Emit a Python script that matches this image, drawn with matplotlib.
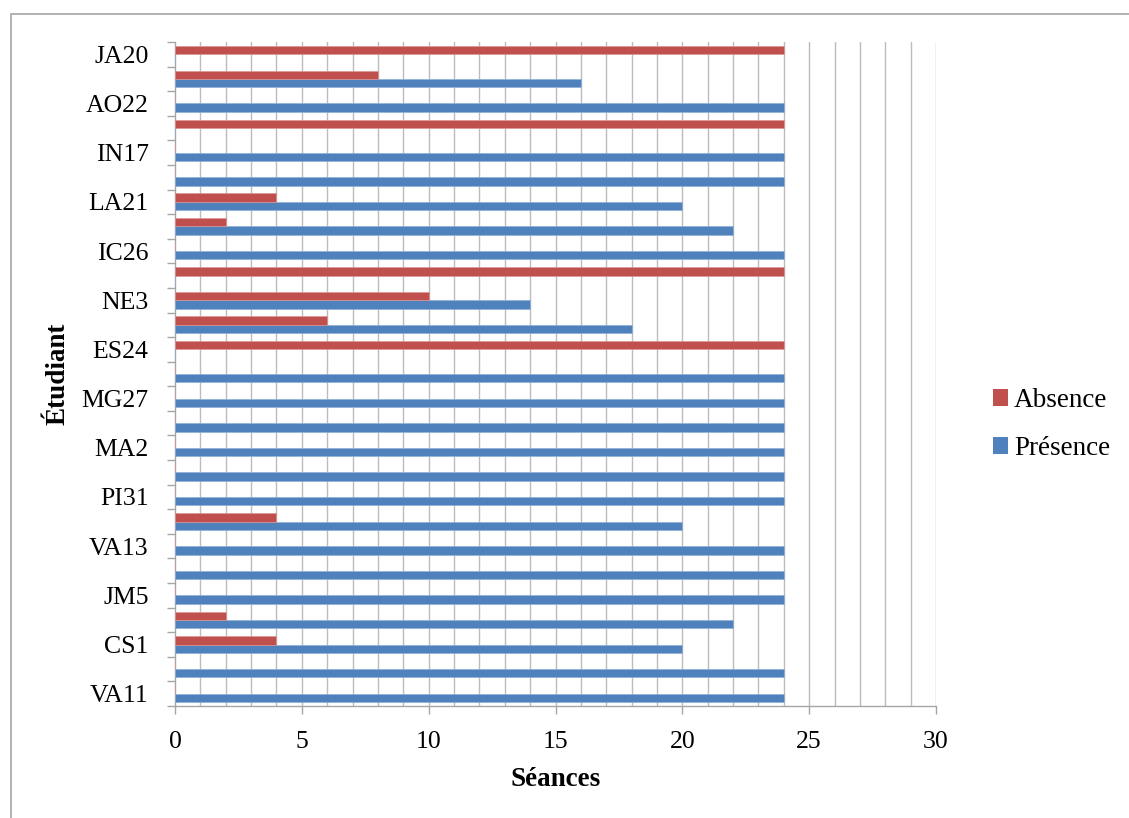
import numpy as np
import matplotlib
matplotlib.use('Agg')
from matplotlib import pyplot as plt
from matplotlib.patches import Patch, Rectangle

# students from bottom to top (only every other name is printed on the axis)
etudiants = ['VA11', '', 'CS1', '', 'JM5', '', 'VA13', '', 'PI31', '', 'MA2', '', 'MG27', '',
             'ES24', '', 'NE3', '', 'IC26', '', 'LA21', '', 'IN17', '', 'AO22', '', 'JA20']
presence = [24, 24, 20, 22, 24, 24, 24, 20, 24, 24, 24, 24, 24, 24,
            0, 18, 14, 0, 24, 22, 20, 24, 24, 0, 24, 16, 0]
absence = [0, 0, 4, 2, 0, 0, 0, 4, 0, 0, 0, 0, 0, 0,
           24, 6, 10, 24, 0, 2, 4, 0, 0, 24, 0, 8, 24]

plt.rcParams['font.family'] = ['Liberation Serif', 'DejaVu Serif']

bleu = '#4F81BD'
rouge = '#C0504D'
gris = '#a6a6a6'

fig = plt.figure(figsize=(11.29, 8.18), dpi=100)
ax = fig.add_axes([175/1129, 1 - 706/818, (936-175)/1129, (706-42)/818])

y = np.arange(1, len(etudiants) + 1)
h = 0.34
ax.barh(y - h/2, presence, height=h, color=bleu, edgecolor='#8fb0d8', linewidth=0.5, zorder=3)
ax.barh(y + h/2, absence, height=h, color=rouge, edgecolor='#d99694', linewidth=0.5, zorder=3)

ax.set_xlim(0, 30)
ax.set_ylim(0.5, len(etudiants) + 0.5)

# vertical gridlines every séance
for v in range(1, 31):
    ax.axvline(v, color='#bcbcbc', linewidth=1, zorder=1)

ax.set_xticks(range(0, 31, 5))
ax.set_yticks(y[::2])
ax.set_yticklabels(etudiants[::2])
ax.set_yticks(np.arange(0.5, len(etudiants) + 1, 1), minor=True)
ax.tick_params(axis='y', which='major', length=0, pad=19, labelsize=18.5)
ax.tick_params(axis='y', which='minor', length=6, width=1, color=gris, direction='out')
ax.tick_params(axis='x', which='major', length=6, width=1, color=gris, direction='out',
               pad=12, labelsize=18.5)

for s in ['top', 'right']:
    ax.spines[s].set_visible(False)
for s in ['left', 'bottom']:
    ax.spines[s].set_color(gris)
    ax.spines[s].set_linewidth(1)

ax.set_xlabel('Séances', fontsize=19.5, fontweight='bold', va='center')
ax.xaxis.set_label_coords(0.5, (706 - 780) / 664)
ax.set_ylabel('Étudiant', fontsize=19.5, fontweight='bold', va='center')
ax.yaxis.set_label_coords((58 - 175) / 761, 0.5)

handles = [Patch(facecolor=rouge), Patch(facecolor=bleu)]
fig.legend(handles, ['Absence', 'Présence'], loc='center left',
           bbox_to_anchor=(993/1129, 1 - 424.5/818), frameon=False, fontsize=19.5,
           borderpad=0, borderaxespad=0, handlelength=0.57, handleheight=0.57,
           handletextpad=0.2, labelspacing=0.83)

# outer chart frame (right and bottom edges fall outside the picture)
fig.add_artist(Rectangle((10.7/1129, -0.1), 1.2, 1 - 14/818 + 0.1, transform=fig.transFigure,
                         fill=False, edgecolor=gris, linewidth=1.2))

fig.savefig('out.png', dpi=100)
